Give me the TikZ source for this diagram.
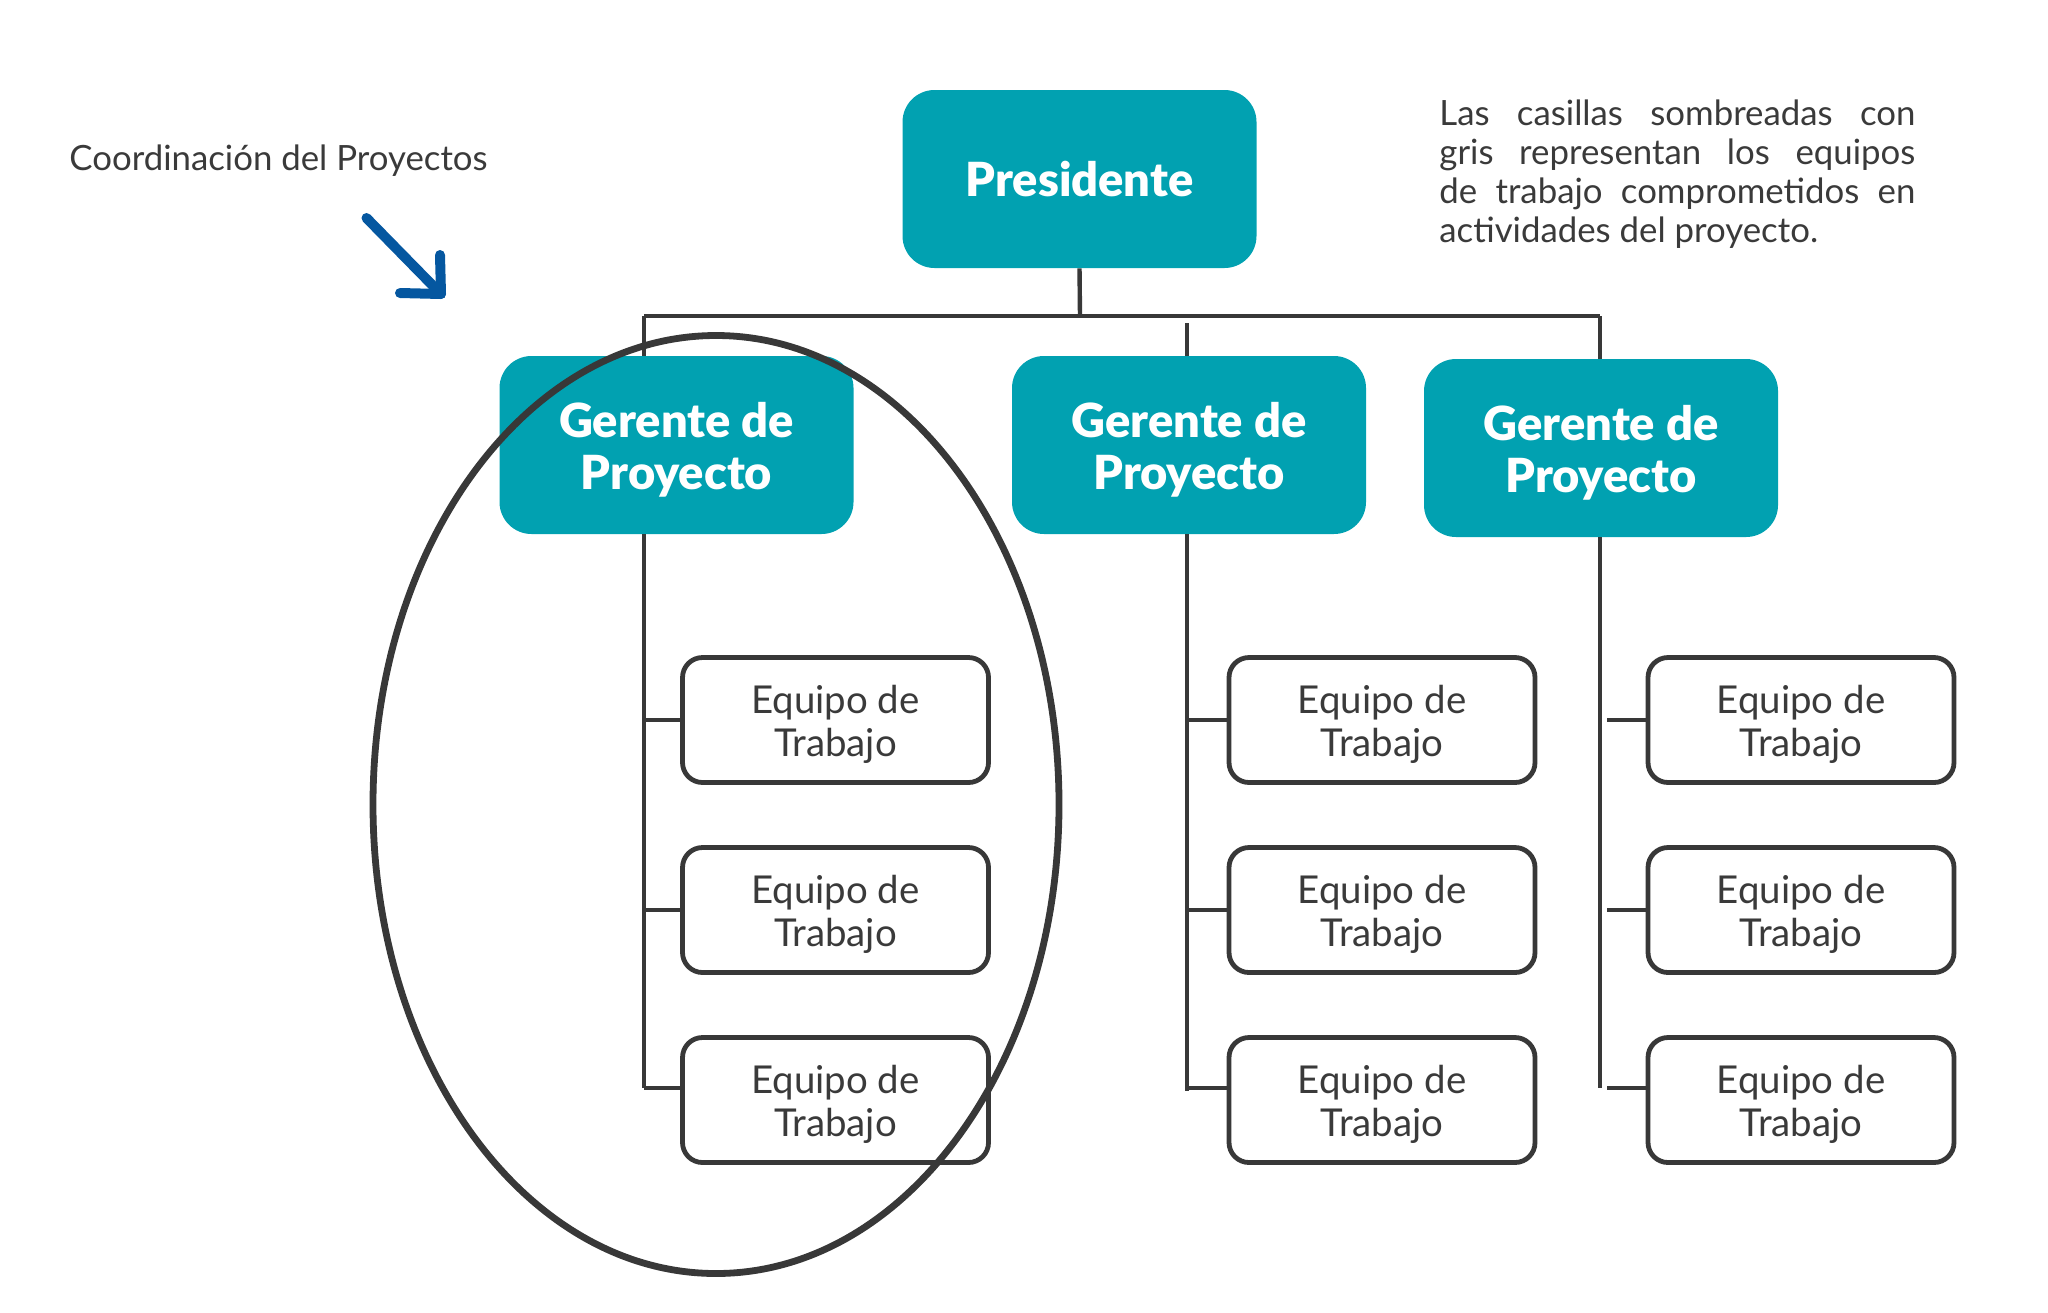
\documentclass[tikz,border=0pt]{standalone}
\usepackage{fontspec}
\setmainfont{Lato}
\newfontfamily\headfont{Lato Black}
\usetikzlibrary{arrows.meta}
\definecolor{teal1}{HTML}{01A1B1}
\definecolor{ink}{HTML}{3A3A3A}
\definecolor{linec}{HTML}{383838}
\definecolor{arrowblue}{HTML}{0557A0}
\tikzset{
  boss/.style={rounded corners=16pt, fill=teal1, text=white, minimum width=177pt, minimum height=89pt, align=center, inner sep=0pt, font=\headfont\fontsize{23.5}{26}\selectfont},
  mgr/.style={boss},
  mgrtext/.style={text=white, align=center, inner sep=0pt, yshift=-2.5pt, font=\headfont\fontsize{23.5}{26}\selectfont},
  team/.style={rounded corners=10pt, draw=linec, line width=2.4pt, fill=white, minimum width=153pt, minimum height=62.5pt, inner sep=0pt},
  teamtext/.style={text=ink, align=center, inner sep=0pt, yshift=-2pt, font=\fontsize{19.2}{21.5}\selectfont},
  conn/.style={draw=linec, line width=2.2pt},
  ring/.style={draw=linec, line width=3.4pt},
  bluearrow/.style={draw=arrowblue, line width=5pt, line cap=round, line join=round},
  note/.style={text=ink, inner sep=0pt, font=\fontsize{17.4}{19.5}\selectfont}
}
\begin{document}
\begin{tikzpicture}[x=0.5pt, y=-0.5pt]
\useasboundingbox (0,0) rectangle (2048,1312);
% boxes
\node[boss] (pres) at (1079.5,179) {Presidente};
\node[mgr, label={[mgrtext]center:{Gerente de\\Proyecto}}] (g1) at (676.5,445) {};
\node[mgr, label={[mgrtext]center:{Gerente de\\Proyecto}}] (g2) at (1189,445) {};
\node[mgr, label={[mgrtext]center:{Gerente de\\Proyecto}}] (g3) at (1601,448) {};
\foreach \c/\x in {1/835.5, 2/1382, 3/1801}{
  \node[team, label={[teamtext]center:{Equipo de\\Trabajo}}] (e\c1) at (\x,720) {};
  \node[team, label={[teamtext]center:{Equipo de\\Trabajo}}] (e\c2) at (\x,910) {};
  \node[team, label={[teamtext]center:{Equipo de\\Trabajo}}] (e\c3) at (\x,1100) {};
}
% top connectors
\coordinate (bus) at (1080,317);
\coordinate (busL) at (644,316);
\coordinate (busR) at (1600,316);
\coordinate (g2top) at (1187,323);
\draw[conn] (pres.south) -- (bus);
\draw[conn] (busL) -- (busR);
\draw[conn] (busL) -- (busL |- g1.north);
\draw[conn] (g2top) -- (g2top |- g2.north);
\draw[conn] (busR) -- (busR |- g3.north);
% column connectors
\coordinate (v1) at (644,1088);
\coordinate (v2) at (1187,1091);
\coordinate (v3) at (1600,1088);
\coordinate (s3) at (1607,1088);
\coordinate (s2) at (1187,1088);
\draw[conn] (v1 |- g1.south) -- (v1);
\draw[conn] (v2 |- g2.south) -- (v2);
\draw[conn] (v3 |- g3.south) -- (v3);
\draw[conn] (v1 |- e11.west) -- (e11.west);
\draw[conn] (v1 |- e12.west) -- (e12.west);
\draw[conn] (v1) -- (v1 -| e13.west);
\draw[conn] (v2 |- e21.west) -- (e21.west);
\draw[conn] (v2 |- e22.west) -- (e22.west);
\draw[conn] (s2) -- (s2 -| e23.west);
\draw[conn] (s3 |- e31.west) -- (e31.west);
\draw[conn] (s3 |- e32.west) -- (e32.west);
\draw[conn] (s3) -- (s3 -| e33.west);
% notes
\node[note, anchor=west] (coord) at (69,161) {Coordinación del Proyectos};
\node[note, anchor=north west, align=left] (legend) at (1439,99) {%
  \makebox[238pt][s]{Las casillas sombreadas con}\\
  \makebox[238pt][s]{gris representan los equipos}\\
  \makebox[238pt][s]{de trabajo comprometidos en}\\
  \makebox[238pt][l]{actividades del proyecto.}};
% blue arrow
\coordinate (at0) at (366.5,218);
\coordinate (at1) at (441,294);
\coordinate (al1) at (400,293);
\coordinate (al2) at (440,255);
\draw[bluearrow] (at0) -- (at1);
\draw[bluearrow] (al1) -- (at1) -- (al2);
% ellipse
\coordinate (oval) at (716,804.5);
\draw[ring] (oval) ellipse [x radius=171.5pt, y radius=234.5pt];
\end{tikzpicture}
\end{document}
